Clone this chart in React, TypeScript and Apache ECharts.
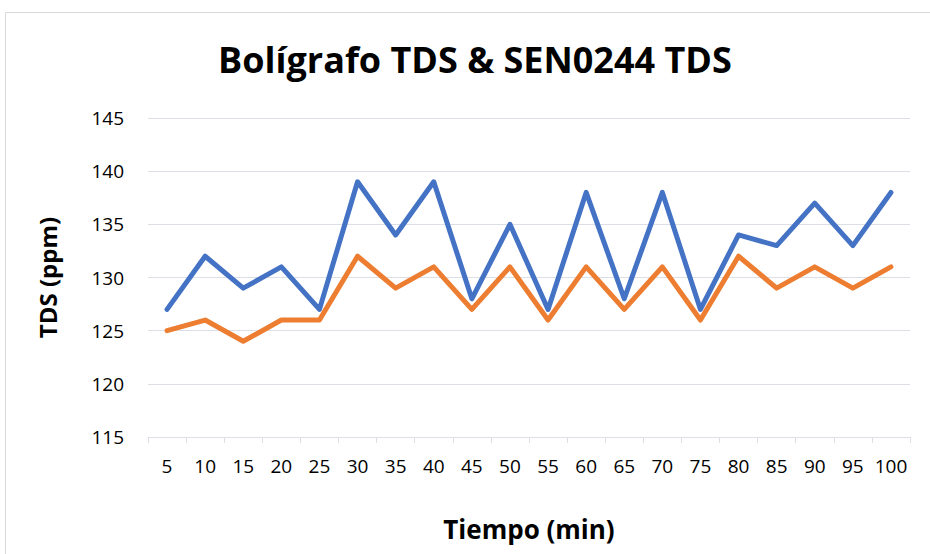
import React, { useEffect, useRef } from "react";
import * as echarts from "echarts";

const categories = ["5", "10", "15", "20", "25", "30", "35", "40", "45", "50", "55", "60", "65", "70", "75", "80", "85", "90", "95", "100"];
const boligrafo = [127, 132, 129, 131, 127, 139, 134, 139, 128, 135, 127, 138, 128, 138, 127, 134, 133, 137, 133, 138];
const sen0244 = [125, 126, 124, 126, 126, 132, 129, 131, 127, 131, 126, 131, 127, 131, 126, 132, 129, 131, 129, 131];

const FONT = "'Open Sans', 'Noto Sans', sans-serif";
const GRID = "#DCDFE6";

export default function App() {
  const ref = useRef<HTMLDivElement>(null);
  useEffect(() => {
    document.body.style.margin = "0";
    const chart = echarts.init(ref.current!, null, { renderer: "svg" });
    chart.setOption({
      animation: false,
      backgroundColor: "#ffffff",
      title: {
        text: "Bolígrafo TDS & SEN0244 TDS",
        left: 218,
        top: 41,
        padding: 0,
        textStyle: { fontFamily: FONT, fontWeight: "bold", fontSize: 36, color: "#000000" },
      },
      graphic: [
        {
          type: "rect",
          shape: { x: 5.5, y: 12.5, width: 940, height: 580 },
          style: { fill: "none", stroke: "#D9D9D9", lineWidth: 1 },
          silent: true,
        },
      ],
      grid: { left: 148, right: 20, top: 118, bottom: 117 },
      xAxis: {
        type: "category",
        data: categories,
        boundaryGap: true,
        name: "Tiempo (min)",
        nameLocation: "middle",
        nameGap: 79,
        nameTextStyle: { fontFamily: FONT, fontWeight: "bold", fontSize: 26, color: "#000000" },
        axisLine: { lineStyle: { color: GRID, width: 1 } },
        axisTick: { show: true, length: 6, lineStyle: { color: GRID } },
        axisLabel: { fontFamily: FONT, fontSize: 19, color: "#000000", margin: 19, interval: 0 },
      },
      yAxis: {
        type: "value",
        min: 115,
        max: 145,
        interval: 5,
        name: "TDS (ppm)",
        nameLocation: "middle",
        nameGap: 89,
        nameTextStyle: { fontFamily: FONT, fontWeight: "bold", fontSize: 24, color: "#000000" },
        axisLine: { show: false },
        axisTick: { show: false },
        axisLabel: { fontFamily: FONT, fontSize: 19, color: "#000000", margin: 24 },
        splitLine: { lineStyle: { color: GRID, width: 1 } },
      },
      series: [
        {
          name: "Bolígrafo TDS",
          type: "line",
          data: boligrafo,
          symbol: "none",
          lineStyle: { color: "#4472C4", width: 5, cap: "round", join: "round" },
          itemStyle: { color: "#4472C4" },
        },
        {
          name: "SEN0244 TDS",
          type: "line",
          data: sen0244,
          symbol: "none",
          lineStyle: { color: "#ED7D31", width: 5, cap: "round", join: "round" },
          itemStyle: { color: "#ED7D31" },
        },
      ],
    });
    return () => chart.dispose();
  }, []);
  return <div ref={ref} style={{ width: 930, height: 554 }} />;
}
